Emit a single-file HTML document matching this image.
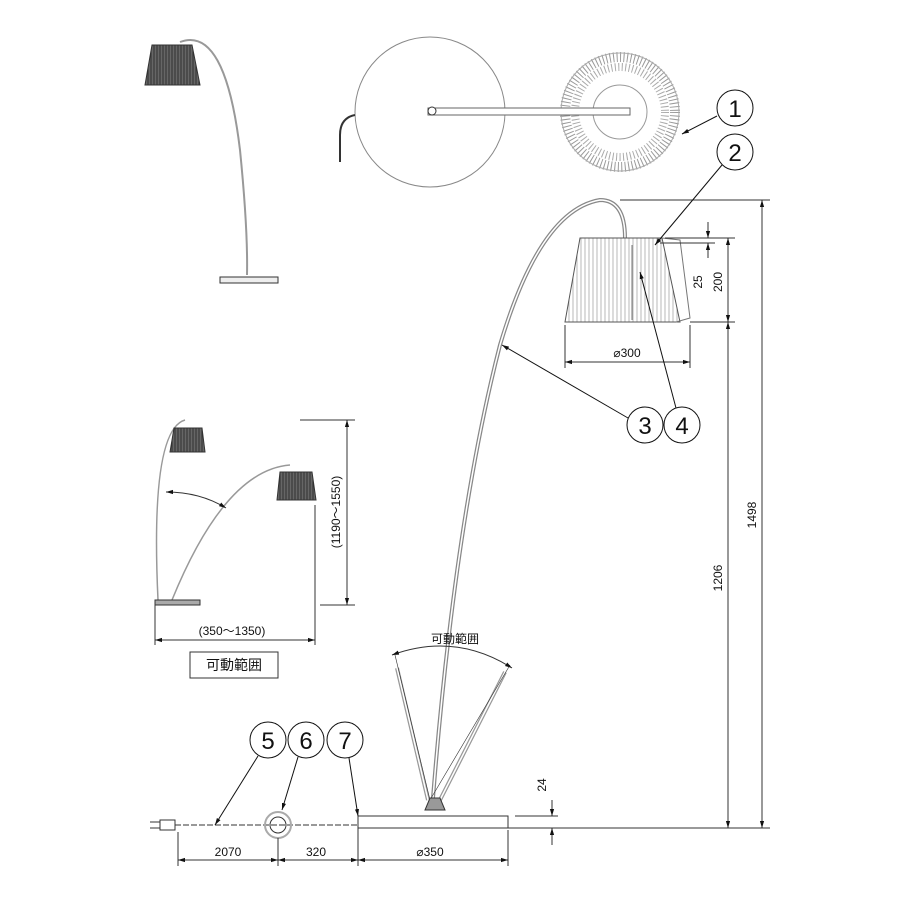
<!DOCTYPE html>
<html><head><meta charset="utf-8"><style>
html,body{margin:0;padding:0;background:#fff}
svg{display:block}
text{font-family:"Liberation Sans","Noto Sans CJK JP",sans-serif;fill:#111}
</style></head><body>
<svg width="900" height="900" viewBox="0 0 900 900" xmlns="http://www.w3.org/2000/svg">
<defs>
<marker id="a" viewBox="0 0 10 10" refX="10" refY="5" markerWidth="7" markerHeight="7" orient="auto-start-reverse"><path d="M0,2 L10,5 L0,8z" fill="#111"/></marker>
<pattern id="st" width="4" height="4" patternUnits="userSpaceOnUse"><rect width="4" height="4" fill="#fff"/><line x1="1" y1="0" x2="1" y2="4" stroke="#999" stroke-width="0.7"/></pattern>
<pattern id="dk" width="3" height="4" patternUnits="userSpaceOnUse"><rect width="3" height="4" fill="#666"/><line x1="1" y1="0" x2="1" y2="4" stroke="#222" stroke-width="0.8"/></pattern>
</defs>
<g fill="none" stroke="#333" stroke-width="1">
<!-- top-left small lamp -->
<path d="M180,42 Q225,25 240,150 Q248,230 247,275" stroke-width="2" stroke="#999"/>
<polygon points="152,45 192,45 200,85 145,85" fill="url(#dk)"/>
<rect x="220" y="277" width="58" height="6" fill="#eee"/>
<!-- top view -->
<circle cx="430" cy="112" r="75" stroke="#888"/>
<circle cx="620" cy="112" r="55" stroke="#999" stroke-width="10" stroke-dasharray="1,2.5" r2="0"/>
<circle cx="620" cy="112" r="45" stroke="#aaa" stroke-width="8" stroke-dasharray="1,2.5"/>
<circle cx="620" cy="112" r="59" stroke="#aaa"/>
<circle cx="620" cy="112" r="27" stroke="#999"/>
<rect x="428" y="108" width="202" height="7" fill="#fff" stroke="#666"/>
<circle cx="432" cy="111" r="4" fill="#fff"/>
<path d="M355,115 Q340,118 340,135 L340,162" stroke-width="2"/>
<!-- main lamp arc -->
<path d="M433,798 Q455,520 500,345 Q540,210 600,200 Q625,200 625,238" stroke="#888" stroke-width="4"/>
<path d="M433,798 Q455,520 500,345 Q540,210 600,200 Q625,200 625,238" stroke="#fff" stroke-width="1.5"/>
<polygon points="580,238 662,238 680,322 565,322" fill="url(#st)" stroke="#555"/>
<path d="M662,238 L680,240 L690,318 L676,322" stroke="#777"/>
<path d="M632,245 L632,320" stroke="#777"/>
<!-- range rods -->
<path d="M428,800 L397,668 M440,800 L505,672" stroke="#999" stroke-width="4"/>
<path d="M428,800 L397,668 M440,800 L505,672" stroke="#fff" stroke-width="1.5"/>
<path d="M395,655 L430,800 L510,665" stroke-width="0.6"/>
<path d="M392,655 Q455,632 512,668" marker-start="url(#a)" marker-end="url(#a)"/>
<polygon points="425,810 445,810 440,798 430,798" fill="#999"/>
<!-- base and cord -->
<rect x="358" y="816" width="150" height="12" fill="#fff"/>
<path d="M175,825 L358,825" stroke-dasharray="6,2"/>
<circle cx="278" cy="825" r="13" stroke="#aaa" stroke-width="2"/>
<circle cx="278" cy="825" r="8"/>
<path d="M160,820 L175,820 L175,830 L160,830z M150,822 L160,822 M150,828 L160,828"/>
<!-- middle-left diagram -->
<path d="M158,600 Q150,430 185,420 M172,600 Q225,470 290,465" stroke="#999" stroke-width="1.5"/>
<polygon points="174,428 202,428 205,452 170,452" fill="url(#dk)"/>
<polygon points="280,472 312,472 316,500 277,500" fill="url(#dk)"/>
<rect x="155" y="600" width="45" height="5" fill="#aaa"/>
<path d="M166,492 Q200,492 226,508" marker-start="url(#a)" marker-end="url(#a)"/>
<path d="M155,605 L155,645 M315,505 L315,645" />
<path d="M155,640 L315,640" marker-start="url(#a)" marker-end="url(#a)"/>
<path d="M300,420 L355,420 M320,605 L355,605"/>
<path d="M347,420 L347,605" marker-start="url(#a)" marker-end="url(#a)"/>
<rect x="190" y="652" width="88" height="26"/>
<!-- right dims -->
<path d="M620,200 L770,200 M690,322 L735,322 M508,828 L770,828 M665,238 L735,238 M660,243 L715,243"/>
<path d="M762,200 L762,828" marker-start="url(#a)" marker-end="url(#a)"/>
<path d="M728,322 L728,828" marker-start="url(#a)" marker-end="url(#a)"/>
<path d="M728,238 L728,322" marker-start="url(#a)" marker-end="url(#a)"/>
<path d="M708,222 L708,238" marker-end="url(#a)"/><path d="M708,258 L708,243" marker-end="url(#a)"/>
<path d="M565,325 L565,368 M690,325 L690,368"/>
<path d="M565,362 L690,362" marker-start="url(#a)" marker-end="url(#a)"/>
<path d="M515,816 L558,816"/>
<path d="M552,800 L552,816" marker-end="url(#a)"/><path d="M552,845 L552,828" marker-end="url(#a)"/>
<!-- bottom dims -->
<path d="M178,832 L178,866 M278,838 L278,866 M358,828 L358,866 M508,830 L508,866"/>
<path d="M178,860 L278,860" marker-start="url(#a)" marker-end="url(#a)"/>
<path d="M278,860 L358,860" marker-start="url(#a)" marker-end="url(#a)"/>
<path d="M358,860 L508,860" marker-start="url(#a)" marker-end="url(#a)"/>
<!-- callouts -->
<g stroke="#111">
<circle cx="735" cy="108" r="18" fill="#fff"/><circle cx="735" cy="152" r="18" fill="#fff"/>
<circle cx="645" cy="425" r="18" fill="#fff"/><circle cx="682" cy="425" r="18" fill="#fff"/>
<circle cx="268" cy="740" r="18" fill="#fff"/><circle cx="306" cy="740" r="18" fill="#fff"/><circle cx="345" cy="740" r="18" fill="#fff"/>
<path d="M717,116 L682,134" marker-end="url(#a)"/>
<path d="M722,165 L655,245" marker-end="url(#a)"/>
<path d="M628,418 L502,345" marker-end="url(#a)"/>
<path d="M676,408 L640,272" marker-end="url(#a)"/>
<path d="M258,756 L215,825" marker-end="url(#a)"/>
<path d="M298,757 L282,810" marker-end="url(#a)"/>
<path d="M349,758 L358,816" marker-end="url(#a)"/>
</g>
</g>
<g font-size="24" text-anchor="middle">
<text x="735" y="117">1</text><text x="735" y="161">2</text>
<text x="645" y="434">3</text><text x="682" y="434">4</text>
<text x="268" y="749">5</text><text x="306" y="749">6</text><text x="345" y="749">7</text>
</g>
<g font-size="12" text-anchor="middle">
<text x="627" y="357">⌀300</text>
<text x="228" y="856">2070</text><text x="316" y="856">320</text><text x="430" y="856">⌀350</text>
<text x="232" y="635">(350～1350)</text>
<text x="455" y="643">可動範囲</text>
<text x="234" y="670" font-size="14">可動範囲</text>
<text transform="translate(340,512) rotate(-90)">(1190～1550)</text>
<text transform="translate(756,515) rotate(-90)">1498</text>
<text transform="translate(722,578) rotate(-90)">1206</text>
<text transform="translate(722,282) rotate(-90)">200</text>
<text transform="translate(702,282) rotate(-90)">25</text>
<text transform="translate(546,785) rotate(-90)">24</text>
</g>
</svg>
</body></html>
